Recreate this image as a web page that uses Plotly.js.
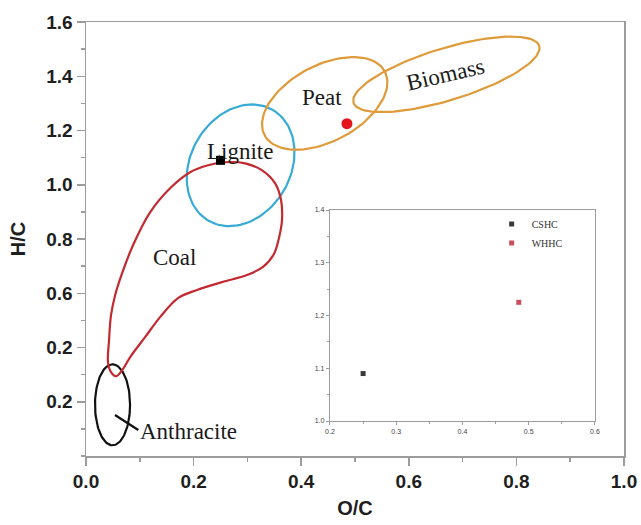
<!DOCTYPE html>
<html>
<head>
<meta charset="utf-8">
<script src="https://cdn.plot.ly/plotly-3.0.1.min.js"></script>
<style>html,body{margin:0;padding:0;background:#fff}#chart{width:641px;height:525px}</style>
</head>
<body>
<div id="chart"></div>
<script>
// ---- axis ticks ----
const ocTickVals = [0, 0.2, 0.4, 0.6, 0.8, 1.0];
const ocTickText = ['0.0', '0.2', '0.4', '0.6', '0.8', '1.0'];
const hcTickVals = [0.2, 0.4, 0.6, 0.8, 1.0, 1.2, 1.4, 1.6];
const hcTickText = ['0.2', '0.2', '0.6', '0.8', '1.0', '1.2', '1.4', '1.6'];

// ---- samples (O/C, H/C) ----
const sampleNames = ['CSHC', 'WHHC'];
const sampleOC = [0.25, 0.485];
const sampleHC = [1.09, 1.225];

// ---- Coal region outline ----
const coalOC = [0.0558, 0.0465, 0.0409, 0.0428, 0.0465, 0.0540, 0.0670, 0.0874, 0.1191, 0.1563, 0.1935, 0.2251,
                0.2586, 0.2958, 0.3274, 0.3516, 0.3625, 0.3643, 0.3587, 0.3494, 0.3290, 0.2993, 0.2528, 0.2063,
                0.1710, 0.1377, 0.1098, 0.0819, 0.0670, 0.0558];
const coalHC = [0.294, 0.309, 0.345, 0.426, 0.519, 0.592, 0.673, 0.777, 0.898, 0.987, 1.046, 1.071,
                1.083, 1.079, 1.053, 1.005, 0.944, 0.870, 0.804, 0.745, 0.697, 0.667, 0.641, 0.612,
                0.582, 0.512, 0.438, 0.364, 0.316, 0.294];

// ---- elliptic regions: name, centre (O/C, H/C), semi-axes (in O/C units on screen), tilt (deg) ----
const regionNames = ['Lignite', 'Peat', 'Biomass', 'Anthracite'];
const regionCx = [0.2874, 0.4437, 0.6698, 0.0493];
const regionCy = [1.0717, 1.300, 1.407, 0.1888];
const regionA = [0.119, 0.1265, 0.1805, 0.0326];
const regionB = [0.093, 0.0707, 0.0484, 0.0753];
const regionTilt = [60, 28, 17, 0];
const regionColors = ['#38aad6', '#df9a3a', '#df9a3a', '#111111'];

// ---- labels ----
const labelText = ['Lignite', 'Coal', 'Peat', 'Biomass', 'Anthracite'];
const labelOC = [0.2862, 0.1654, 0.4387, 0.669, 0.1914];
const labelHC = [1.121, 0.730, 1.320, 1.405, 0.0896];
const labelAngle = [0, 0, 0, -13, 0];
const leaderOC = [0.0539, 0.0972];
const leaderHC = [0.151, 0.0959];

// screen aspect: pixels per O/C unit / pixels per H/C unit
const aspect = 538 / 271.25;

function ellipse(i) {
  const xs = [], ys = [];
  const th = regionTilt[i] * Math.PI / 180;
  for (let k = 0; k <= 120; k++) {
    const t = 2 * Math.PI * k / 120;
    const u = regionA[i] * Math.cos(t), v = regionB[i] * Math.sin(t);
    const du = u * Math.cos(th) - v * Math.sin(th);
    const dv = u * Math.sin(th) + v * Math.cos(th);
    xs.push(regionCx[i] + du);
    ys.push(regionCy[i] + dv * aspect);
  }
  return {x: xs, y: ys};
}

const traces = [];
regionNames.forEach((n, i) => {
  const e = ellipse(i);
  traces.push({x: e.x, y: e.y, mode: 'lines', name: n, showlegend: false, hoverinfo: 'skip',
    line: {color: regionColors[i], width: 2.2}, xaxis: 'x', yaxis: 'y'});
});
traces.push({x: coalOC, y: coalHC, mode: 'lines', name: 'Coal', showlegend: false, hoverinfo: 'skip',
  line: {color: '#c22a30', width: 2.2, shape: 'spline', smoothing: 1}, xaxis: 'x', yaxis: 'y'});
traces.push({x: leaderOC, y: leaderHC, mode: 'lines', showlegend: false, hoverinfo: 'skip',
  line: {color: '#111', width: 2.2}, xaxis: 'x', yaxis: 'y'});
// main plot samples
traces.push({x: [sampleOC[0]], y: [sampleHC[0]], mode: 'markers', showlegend: false,
  marker: {symbol: 'square', size: 9, color: '#000'}, xaxis: 'x', yaxis: 'y'});
traces.push({x: [sampleOC[1]], y: [sampleHC[1]], mode: 'markers', showlegend: false,
  marker: {symbol: 'circle', size: 11, color: '#e3141b'}, xaxis: 'x', yaxis: 'y'});
// inset samples
traces.push({x: [sampleOC[0]], y: [sampleHC[0]], mode: 'markers', name: sampleNames[0],
  marker: {symbol: 'square', size: 5, color: '#3a3a3a'}, xaxis: 'x2', yaxis: 'y2'});
traces.push({x: [sampleOC[1]], y: [sampleHC[1]], mode: 'markers', name: sampleNames[1],
  marker: {symbol: 'square', size: 5, color: '#c8505c'}, xaxis: 'x2', yaxis: 'y2'});

const axisGray = '#9c9c9c';
const annotations = labelText.map((t, i) => ({
  x: labelOC[i], y: labelHC[i], xref: 'x', yref: 'y', text: t, showarrow: false,
  textangle: labelAngle[i],
  font: {family: 'Liberation Serif, Times New Roman, serif', size: 23, color: '#1a1a1a'}
}));

const layout = {
  width: 641, height: 525,
  margin: {l: 86, r: 17, t: 22, b: 69},
  paper_bgcolor: '#fff', plot_bgcolor: '#fff',
  showlegend: true,
  legend: {x: 0.754, y: 0.568, xanchor: 'left', yanchor: 'top', bgcolor: 'rgba(0,0,0,0)',
    font: {family: 'Liberation Serif, Times New Roman, serif', size: 10, color: '#333'},
    tracegroupgap: 0},
  xaxis: {
    domain: [0, 1], range: [0, 1], tickmode: 'array', tickvals: ocTickVals, ticktext: ocTickText,
    showline: true, linecolor: axisGray, linewidth: 1.5, mirror: true,
    ticks: 'outside', ticklen: 8, tickwidth: 1.5, tickcolor: axisGray,
    minor: {tick0: 0, dtick: 0.1, ticks: 'outside', ticklen: 4, tickwidth: 1.5, tickcolor: axisGray, showgrid: false},
    showgrid: false, zeroline: false,
    tickfont: {family: 'Liberation Sans, Arial, sans-serif', size: 19, weight: 'bold', color: '#1e1e1e'},
    title: {text: 'O/C', standoff: 9, font: {family: 'Liberation Sans, Arial, sans-serif', size: 20, weight: 'bold', color: '#1e1e1e'}}
  },
  yaxis: {
    domain: [0, 1], range: [0, 1.6], tickmode: 'array', tickvals: hcTickVals, ticktext: hcTickText,
    showline: true, linecolor: axisGray, linewidth: 1.5, mirror: true,
    ticks: 'outside', ticklen: 8, tickwidth: 1.5, tickcolor: axisGray,
    minor: {tick0: 0, dtick: 0.1, ticks: 'outside', ticklen: 4, tickwidth: 1.5, tickcolor: axisGray, showgrid: false},
    showgrid: false, zeroline: false,
    tickfont: {family: 'Liberation Sans, Arial, sans-serif', size: 19, weight: 'bold', color: '#1e1e1e'},
    title: {text: 'H/C', standoff: 15, font: {family: 'Liberation Sans, Arial, sans-serif', size: 20, weight: 'bold', color: '#1e1e1e'}}
  },
  xaxis2: {
    domain: [0.4535, 0.946], anchor: 'y2', range: [0.2, 0.6], dtick: 0.1, tick0: 0.2, tickformat: '.1f',
    showline: true, linecolor: axisGray, linewidth: 1.2, mirror: true,
    ticks: 'outside', ticklen: 3, tickwidth: 1, tickcolor: axisGray,
    minor: {dtick: 0.05, ticks: 'outside', ticklen: 2, tickwidth: 1, tickcolor: axisGray, showgrid: false},
    showgrid: false, zeroline: false,
    tickfont: {family: 'Liberation Sans, Arial, sans-serif', size: 7, color: '#444'}
  },
  yaxis2: {
    domain: [0.0806, 0.5668], anchor: 'x2', range: [1.0, 1.4], dtick: 0.1, tick0: 1.0, tickformat: '.1f',
    showline: true, linecolor: axisGray, linewidth: 1.2, mirror: true,
    ticks: 'outside', ticklen: 3, tickwidth: 1, tickcolor: axisGray,
    minor: {dtick: 0.05, ticks: 'outside', ticklen: 2, tickwidth: 1, tickcolor: axisGray, showgrid: false},
    showgrid: false, zeroline: false,
    tickfont: {family: 'Liberation Sans, Arial, sans-serif', size: 7, color: '#444'}
  },
  annotations: annotations
};

Plotly.newPlot('chart', traces, layout, {displayModeBar: false, staticPlot: true});
</script>
</body>
</html>
